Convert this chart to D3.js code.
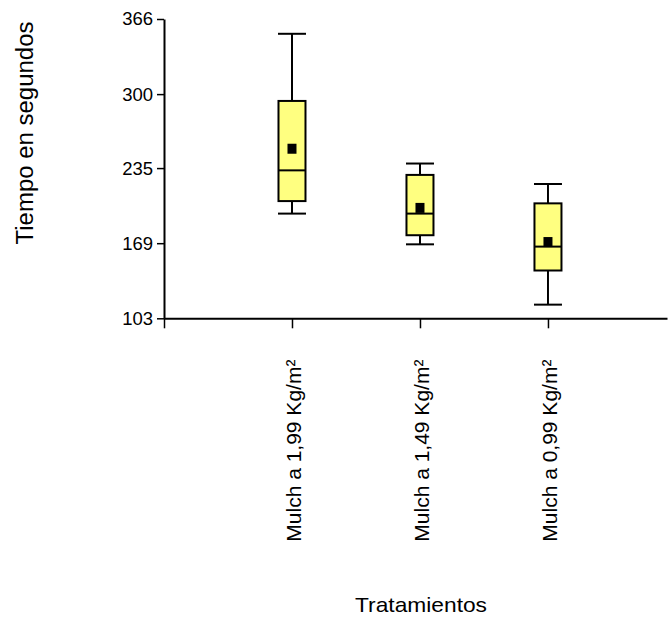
<!DOCTYPE html>
<html>
<head>
<meta charset="utf-8">
<script src="https://cdn.jsdelivr.net/npm/d3@7"></script>
<style>
  html, body { margin: 0; padding: 0; background: #fff; }
  text { font-family: Arial, "Liberation Sans", sans-serif; fill: #000; }
</style>
</head>
<body>
<svg id="chart" width="669" height="621"></svg>
<script>
// ---- data ----
const categories = ["Mulch a 1,99 Kg/m²", "Mulch a 1,49 Kg/m²", "Mulch a 0,99 Kg/m²"];
const whiskerMax = [353, 239, 221];
const q3Values   = [294, 229, 204];
const medians    = [233, 195, 166];
const q1Values   = [206, 176, 145];
const whiskerMin = [195, 168, 115];
const means      = [252, 200, 170];
const yTickValues = [103, 169, 235, 300, 366];
const yTitle = "Tiempo en segundos";
const xTitle = "Tratamientos";

const rows = categories.map((c, i) => ({
  cat: c, idx: i + 1,
  max: whiskerMax[i], q3: q3Values[i], med: medians[i],
  q1: q1Values[i], min: whiskerMin[i], mean: means[i]
}));

const svg = d3.select("#chart");

const x = d3.scaleLinear().domain([0, 3.93]).range([164, 667]);
const y = d3.scaleLinear().domain([103, 366]).range([318.3, 19]);

// ---- y axis ----
const yAxis = d3.axisLeft(y).tickValues(yTickValues).tickSize(7).tickSizeOuter(0).tickPadding(4);
const gy = svg.append("g").attr("transform", `translate(${x(0)},0)`).call(yAxis);
gy.select(".domain").attr("stroke", "#000").attr("stroke-width", 2);
gy.selectAll(".tick line").attr("stroke", "#000").attr("stroke-width", 1.5);
gy.selectAll(".tick text")
  .attr("font-size", 18.5).attr("font-family", "Arial, 'Liberation Sans', sans-serif")
  .attr("fill", "#000");

// ---- x axis ----
const xAxis = d3.axisBottom(x).tickValues([0, 1, 2, 3]).tickSize(10).tickSizeOuter(0).tickFormat("");
const gx = svg.append("g").attr("transform", `translate(0,${y(103)})`).call(xAxis);
gx.select(".domain").attr("stroke", "#000").attr("stroke-width", 2);
gx.selectAll(".tick line").attr("stroke", "#000").attr("stroke-width", 1.5);

// category labels (rotated)
svg.append("g").selectAll("text").data(rows).join("text")
  .attr("transform", d => `translate(${x(d.idx) + 9.3},541.7) rotate(-90)`)
  .attr("text-anchor", "start")
  .attr("font-size", 21)
  .text(d => d.cat);

// ---- boxes ----
const boxHalf = 13.5, capHalf = 14;
const g = svg.append("g");
const stroke = "#000";

g.selectAll(".whisker").data(rows).join("line")
  .attr("x1", d => x(d.idx)).attr("x2", d => x(d.idx))
  .attr("y1", d => y(d.max)).attr("y2", d => y(d.min))
  .attr("stroke", stroke).attr("stroke-width", 2);

g.selectAll(".capTop").data(rows).join("line")
  .attr("x1", d => x(d.idx) - capHalf).attr("x2", d => x(d.idx) + capHalf)
  .attr("y1", d => y(d.max)).attr("y2", d => y(d.max))
  .attr("stroke", stroke).attr("stroke-width", 2);

g.selectAll(".capBot").data(rows).join("line")
  .attr("x1", d => x(d.idx) - capHalf).attr("x2", d => x(d.idx) + capHalf)
  .attr("y1", d => y(d.min)).attr("y2", d => y(d.min))
  .attr("stroke", stroke).attr("stroke-width", 2);

g.selectAll(".box").data(rows).join("rect")
  .attr("x", d => x(d.idx) - boxHalf).attr("width", boxHalf * 2)
  .attr("y", d => y(d.q3)).attr("height", d => y(d.q1) - y(d.q3))
  .attr("fill", "#ffff80").attr("stroke", stroke).attr("stroke-width", 2);

g.selectAll(".median").data(rows).join("line")
  .attr("x1", d => x(d.idx) - boxHalf).attr("x2", d => x(d.idx) + capHalf)
  .attr("y1", d => y(d.med)).attr("y2", d => y(d.med))
  .attr("stroke", stroke).attr("stroke-width", 2);

g.selectAll(".mean").data(rows).join("rect")
  .attr("x", d => x(d.idx) - 4.5).attr("width", 9)
  .attr("y", d => y(d.mean) - 5).attr("height", 10)
  .attr("fill", "#000");

// ---- titles ----
svg.append("text")
  .attr("transform", `translate(33,133) rotate(-90)`)
  .attr("text-anchor", "middle")
  .attr("font-size", 23)
  .attr("textLength", 223).attr("lengthAdjust", "spacingAndGlyphs")
  .text(yTitle);

svg.append("text")
  .attr("x", 421).attr("y", 612)
  .attr("text-anchor", "middle")
  .attr("font-size", 21)
  .attr("textLength", 132).attr("lengthAdjust", "spacingAndGlyphs")
  .text(xTitle);
</script>
</body>
</html>
